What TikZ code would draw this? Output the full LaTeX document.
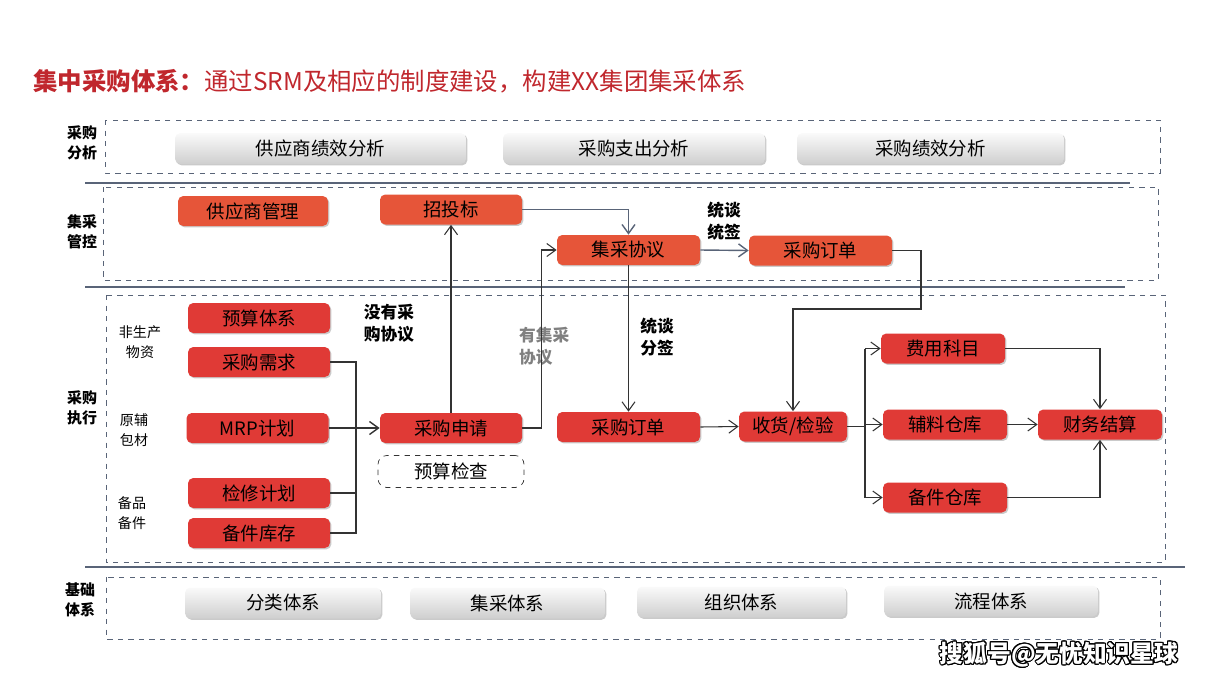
\documentclass[tikz,border=0pt]{standalone}
\usepackage{fontspec}
\setmainfont{Noto Sans CJK SC}
\usepackage{contour}
\contourlength{0.6pt}
\usetikzlibrary{arrows.meta,shadows}
\definecolor{titlered}{HTML}{C0272D}
\definecolor{ctrlred}{HTML}{E65539}
\definecolor{execred}{HTML}{E03A36}
\definecolor{slate}{HTML}{596478}
\definecolor{wire}{HTML}{333333}
\definecolor{notegray}{HTML}{808080}

\begin{document}
\begin{tikzpicture}[
    x=0.02cm, y=-0.02cm,
    zone/.style={draw=slate, dashed, thin},
    sep/.style={draw=slate, semithick},
    boxfont/.style={font=\fontsize{10.5}{12}\selectfont},
    redbox/.style={
      fill=execred,
      rounded corners=3pt,
      minimum height=0.6cm,
      inner sep=0pt,
      boxfont,
      drop shadow={shadow xshift=0.8pt, shadow yshift=-0.8pt, opacity=0.35, fill=black!60}
    },
    ctrlbox/.style={redbox, fill=ctrlred},
    graybox/.style={
      top color=gray!4,
      bottom color=gray!38,
      rounded corners=3pt,
      minimum height=0.62cm,
      inner sep=0pt,
      boxfont,
      drop shadow={shadow xshift=0.8pt, shadow yshift=-0.8pt, opacity=0.35, fill=black!60}
    },
    checkbox/.style={draw=black!80, dashed, fill=white, rounded corners=5pt,
      minimum height=0.64cm, inner sep=0pt, boxfont},
    wd/.style={minimum width=#1*0.02cm},
    rowlabel/.style={font=\fontsize{8.5}{11.3}\selectfont\bfseries, align=center},
    sidelabel/.style={font=\fontsize{8}{11.3}\selectfont, align=center},
    note/.style={font=\fontsize{9.5}{12.5}\selectfont\bfseries, align=left},
    link/.style={draw=wire, semithick},
    arr/.style={-{Straight Barb[length=1.8mm,width=2.6mm]}, draw=wire, semithick},
    bluearr/.style={arr, draw=slate, thick}
  ]
  \useasboundingbox (0,0) rectangle (1209,680);

  % title
  \node[anchor=west, text=titlered, font=\fontsize{13.9}{16}\selectfont, inner sep=0pt] (title) at (33,81)
    {\textbf{集中采购体系：}通过SRM及相应的制度建设，构建XX集团集采体系};

  % layer 1
  \draw[zone] (105,120) rectangle (1160,173);
  \node[rowlabel] (labA) at (82,143) {采购\\分析};
  \node[graybox,wd=291] (supkpi) at (320.5,148.5) {供应商绩效分析};
  \node[graybox,wd=262] (spend) at (634,148.5) {采购支出分析};
  \node[graybox,wd=267] (purkpi) at (930.5,148.5) {采购绩效分析};
  \draw[sep] (85,183) -- (1130,183);

  % layer 2
  \draw[zone] (103,187) rectangle (1158,280);
  \node[rowlabel] (labB) at (82,232) {集采\\管控};
  \node[ctrlbox,wd=150] (supmgmt) at (253,211) {供应商管理};
  \node[ctrlbox,wd=142] (bid) at (451,209.5) {招投标};
  \node[ctrlbox,wd=143] (agree) at (628.5,250) {集采协议};
  \node[ctrlbox,wd=143] (orderA) at (820.5,250.5) {采购订单};
  \node[note] (unified) at (724,221) {统谈\\统签};
  \draw[sep] (85,287) -- (1125,287);

  % layer 3
  \draw[zone] (106,295) rectangle (1165,562);
  \node[rowlabel] (labC) at (82,408) {采购\\执行};
  \node[sidelabel] (nonprod) at (140,342) {非生产\\物资};
  \node[sidelabel] (rawmat) at (134,430) {原辅\\包材};
  \node[sidelabel] (spares) at (132,513) {备品\\备件};
  \node[redbox,wd=142] (budget) at (259,318) {预算体系};
  \node[redbox,wd=142] (demand) at (259,362) {采购需求};
  \node[redbox,wd=142] (mrp) at (257.5,428) {MRP计划};
  \node[redbox,wd=142] (repair) at (259,493) {检修计划};
  \node[redbox,wd=142] (stock) at (259,533) {备件库存};
  \node[redbox,wd=142] (apply) at (451,428) {采购申请};
  \node[checkbox,wd=146] (check) at (451,471.5) {预算检查};
  \node[redbox,wd=143] (orderB) at (628.5,427) {采购订单};
  \node[redbox,wd=108] (recv) at (793,426.5) {收货/检验};
  \node[redbox,wd=124] (cost) at (943,348.5) {费用科目};
  \node[redbox,wd=124] (aux) at (945,424.5) {辅料仓库};
  \node[redbox,wd=124] (spare) at (945,497.5) {备件仓库};
  \node[redbox,wd=124] (settle) at (1100,424.5) {财务结算};
  \node[note] (noagree) at (389,323) {没有采\\购协议};
  \node[note, text=notegray, anchor=west] (hasagree) at (513,346) {有集采\\协议};
  \node[note] (split) at (657,337) {统谈\\分签};
  \draw[sep] (85,567) -- (1185,567);

  % layer 4
  \draw[zone] (106,577) rectangle (1160,639);
  \node[rowlabel] (labD) at (80,600) {基础\\体系};
  \node[graybox,wd=196] (classify) at (283,603) {分类体系};
  \node[graybox,wd=195] (central) at (507.5,603) {集采体系};
  \node[graybox,wd=209] (org) at (741.5,602) {组织体系};
  \node[graybox,wd=214] (flow) at (991,601) {流程体系};

  % connectors
  \coordinate (busT) at (356,362);
  \coordinate (busB) at (356,533);
  \draw[link] (demand.east) -- (busT) -- (busB) -- (stock.east);
  \draw[link] (repair.east) -- (repair.east -| busT);
  \draw[arr, thick] (mrp.east) -- (apply.west);
  \draw[arr] (apply.north) -- (bid.south);
  \draw[arr] (apply.east) -- ++(19,0) |- (agree.west);
  \draw[bluearr] (bid.east) -| (agree.north);
  \draw[bluearr] (agree.east) -- (orderA.west);
  \draw[arr] (agree.south) -- (orderB.north);
  \coordinate (loop) at (921,309);
  \draw[arr] (orderA.east) -| (loop) -| (recv.north);
  \draw[arr] (orderB.east) -- (recv.west);
  \coordinate (fanT) at (865,348.5);
  \coordinate (fanB) at (865,497.5);
  \draw[link] (recv.east) -- (recv.east -| fanT);
  \draw[link] (fanT) -- (fanB);
  \draw[arr] (fanT) -- (cost.west);
  \draw[arr] (aux.west -| fanT) -- (aux.west);
  \draw[arr] (fanB) -- (spare.west);
  \draw[arr] (cost.east) -| (settle.north);
  \draw[arr] (aux.east) -- (settle.west);
  \draw[arr] (spare.east) -| (settle.south);

  % watermark
  \node[text=white, font=\fontsize{13.5}{16}\selectfont\bfseries] (mark) at (1059,655)
    {\contour{black}{搜狐号@无忧知识星球}};
\end{tikzpicture}
\end{document}
